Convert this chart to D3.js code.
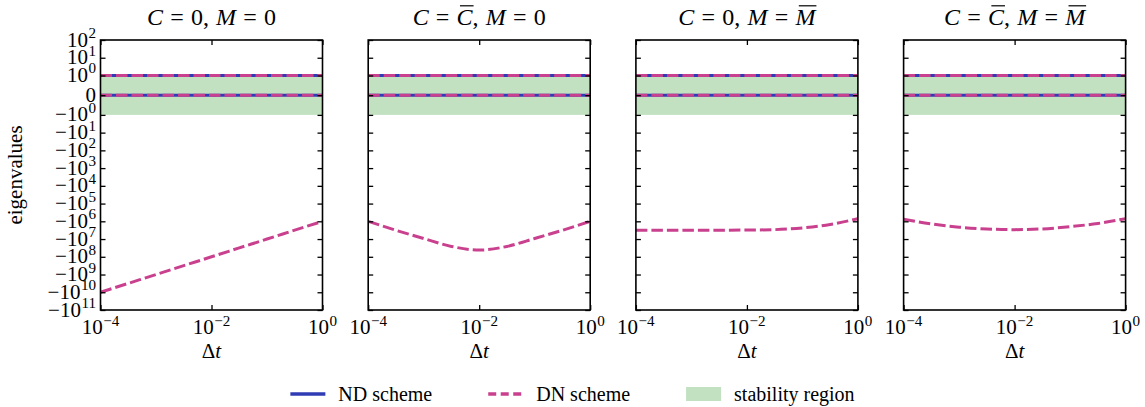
<!DOCTYPE html>
<html>
<head>
<meta charset="utf-8">
<script src="https://cdn.jsdelivr.net/npm/d3@7"></script>
<style>
  body { margin: 0; background: #fff; }
  svg { font-family: "Liberation Serif", "DejaVu Serif", serif; }
  .tick line { stroke: #000; stroke-width: 1.3; }
</style>
</head>
<body>
<svg id="chart" width="1145" height="407"></svg>
<script>
// ---- data ----
const dtValues = [1e-4, 3.16e-4, 1e-3, 3.16e-3, 1e-2, 3.16e-2, 1e-1, 3.16e-1, 1];

// symbols in the titles: "0" is literal, a letter means the barred symbol
const cValues = ["0", "C", "0", "C"];
const mValues = ["0", "0", "M", "M"];

// eigenvalues that stay constant over dt (both schemes)
const ndConstant = [1, 0];
const dnConstant = [1, 0];

// the large negative DN eigenvalue, one row per panel
const dnPanel1 = [-1e10, -3.16e9, -1e9, -3.16e8, -1e8, -3.16e7, -1e7, -3.16e6, -1e6];
const dnPanel2 = [-1e6, -3.2e6, -9.3e6, -2.6e7, -4.2e7, -2.6e7, -9.3e6, -3.2e6, -1e6];
const dnPanel3 = [-3.16e6, -3.16e6, -3.16e6, -3.15e6, -3.1e6, -2.95e6, -2.35e6, -1.5e6, -7.1e5];
const dnPanel4 = [-7.6e5, -1.41e6, -2.14e6, -2.69e6, -2.95e6, -2.69e6, -2.0e6, -1.32e6, -7.1e5];
const dnBranches = [dnPanel1, dnPanel2, dnPanel3, dnPanel4];

const stabilityRegion = [-1, 1];

const yTicks = [1e2, 1e1, 1, 0, -1, -1e1, -1e2, -1e3, -1e4, -1e5, -1e6, -1e7, -1e8, -1e9, -1e10, -1e11];
const xTicks = [1e-4, 1e-2, 1];

const legendLabels = ["ND scheme", "DN scheme", "stability region"];

// ---- layout ----
const svg = d3.select("#chart");
const width = +svg.attr("width");

const margin = { top: 40, left: 100.5 };
const panelWidth = 222;
const panelGap = 45.7;
const innerHeight = 270;

const blue = "#2f3cb4";
const pink = "#c9418e";
const green = "#c1e1c1";
const fontSize = 21;

// matplotlib-style symlog, linthresh = 1, linscale = 1
const linscale = 1 / (1 - 1 / 10);
function symlog(v) {
  const a = Math.abs(v);
  return a <= 1 ? v * linscale : Math.sign(v) * (linscale + Math.log10(a));
}

const yT = d3.scaleLinear()
  .domain([symlog(-1e11), symlog(1e2)])
  .range([innerHeight, 0]);
const y = v => yT(symlog(v));

const x = d3.scaleLog()
  .domain(d3.extent(dtValues))
  .range([0, panelWidth]);

const line = d3.line()
  .x(d => x(d.dt))
  .y(d => y(d.v))
  .curve(d3.curveMonotoneX);

function powLabel(sel, value) {
  // writes "10^k" (or "−10^k", or "0") into a text element
  if (value === 0) { sel.text("0"); return; }
  const exp = Math.round(Math.log10(Math.abs(value)));
  sel.append("tspan").text((value < 0 ? "\u2212" : "") + "10");
  sel.append("tspan")
    .attr("dy", -8.5)
    .attr("dx", 0.5)
    .attr("font-size", fontSize * 0.72)
    .text(exp < 0 ? "\u2212" + (-exp) : exp);
}

function mathTitle(parent, cSym, mSym) {
  const size = 24;
  const grp = parent.append("g");
  const segs = [
    { text: "C", italic: true },
    { text: "=", pad: 0.3 },
    { text: cSym, italic: cSym !== "0", bar: cSym !== "0" },
    { text: ",", after: 0.3 },
    { text: "M", italic: true },
    { text: "=", pad: 0.3 },
    { text: mSym, italic: mSym !== "0", bar: mSym !== "0" }
  ];
  let cx = 0;
  segs.forEach(s => {
    cx += (s.pad || 0) * size;
    const t = grp.append("text")
      .attr("x", cx)
      .attr("font-size", size)
      .style("font-style", s.italic ? "italic" : "normal")
      .text(s.text);
    const w = t.node().getComputedTextLength();
    if (s.bar) {
      grp.append("line")
        .attr("x1", cx + 0.14 * size).attr("x2", cx + w + 0.04 * size)
        .attr("y1", -0.8 * size).attr("y2", -0.8 * size)
        .attr("stroke", "#000").attr("stroke-width", 1.2);
    }
    cx += w + (s.pad || 0) * size + (s.after || 0) * size;
  });
  return cx;
}

dnBranches.forEach((branch, i) => {
  const left = margin.left + i * (panelWidth + panelGap);
  const g = svg.append("g")
    .attr("transform", `translate(${left}, ${margin.top})`);

  const clipId = `clip${i}`;
  g.append("clipPath").attr("id", clipId)
    .append("rect").attr("width", panelWidth).attr("height", innerHeight);

  const plot = g.append("g").attr("clip-path", `url(#${clipId})`);

  plot.append("rect")
    .attr("x", 0)
    .attr("width", panelWidth)
    .attr("y", y(stabilityRegion[1]))
    .attr("height", y(stabilityRegion[0]) - y(stabilityRegion[1]))
    .attr("fill", green);

  const ends = x.domain();

  ndConstant.forEach(v => {
    plot.append("path")
      .datum(ends.map(dt => ({ dt, v })))
      .attr("d", line)
      .attr("fill", "none")
      .attr("stroke", blue)
      .attr("stroke-width", 3);
  });

  dnConstant.forEach(v => {
    plot.append("path")
      .datum(ends.map(dt => ({ dt, v })))
      .attr("d", line)
      .attr("fill", "none")
      .attr("stroke", pink)
      .attr("stroke-width", 3)
      .attr("stroke-dasharray", "11.5,4");
  });

  plot.append("path")
    .datum(dtValues.map((dt, j) => ({ dt, v: branch[j] })))
    .attr("d", line)
    .attr("fill", "none")
    .attr("stroke", pink)
    .attr("stroke-width", 3)
    .attr("stroke-dasharray", "11.5,4");

  // inward ticks on all four sides
  const yTickVals = yTicks.map(symlog);
  g.append("g")
    .call(d3.axisLeft(yT).tickValues(yTickVals).tickSize(-5).tickFormat(""))
    .call(a => a.select(".domain").remove());
  g.append("g")
    .attr("transform", `translate(${panelWidth}, 0)`)
    .call(d3.axisRight(yT).tickValues(yTickVals).tickSize(-5).tickFormat(""))
    .call(a => a.select(".domain").remove());
  g.append("g")
    .attr("transform", `translate(0, ${innerHeight})`)
    .call(d3.axisBottom(x).tickValues(xTicks).tickSize(-5).tickFormat(""))
    .call(a => a.select(".domain").remove());
  g.append("g")
    .call(d3.axisTop(x).tickValues(xTicks).tickSize(-5).tickFormat(""))
    .call(a => a.select(".domain").remove());

  g.append("rect")
    .attr("width", panelWidth)
    .attr("height", innerHeight)
    .attr("fill", "none")
    .attr("stroke", "#000")
    .attr("stroke-width", 1.6);

  // x tick labels
  xTicks.forEach(t => {
    g.append("text")
      .attr("x", x(t))
      .attr("y", innerHeight + 24)
      .attr("text-anchor", "middle")
      .attr("font-size", fontSize)
      .call(powLabel, t);
  });

  // y tick labels only on the first panel
  if (i === 0) {
    yTicks.forEach(t => {
      g.append("text")
        .attr("x", -4.5)
        .attr("y", y(t) + 6.5)
        .attr("text-anchor", "end")
        .attr("font-size", fontSize)
        .call(powLabel, t);
    });
  }

  // x axis label
  const xl = g.append("text")
    .attr("x", panelWidth / 2)
    .attr("y", innerHeight + 48)
    .attr("text-anchor", "middle")
    .attr("font-size", fontSize);
  xl.append("tspan").text("\u0394");
  xl.append("tspan").style("font-style", "italic").text("t");

  // title
  const tg = g.append("g");
  const tw = mathTitle(tg, cValues[i], mValues[i]);
  tg.attr("transform", `translate(${panelWidth / 2 - tw / 2}, -15)`);
});

svg.append("text")
  .attr("transform", `translate(22, ${margin.top + innerHeight / 2}) rotate(-90)`)
  .attr("text-anchor", "middle")
  .attr("font-size", fontSize)
  .text("eigenvalues");

// ---- legend ----
const legend = svg.append("g");
const handleLen = 35, handlePad = 13, colGap = 56;
let lx = 0;
legendLabels.forEach((label, i) => {
  const item = legend.append("g").attr("transform", `translate(${lx}, 0)`);
  if (i === 0) {
    item.append("line").attr("x1", 0).attr("x2", handleLen)
      .attr("stroke", blue).attr("stroke-width", 3.5);
  } else if (i === 1) {
    item.append("line").attr("x1", 0).attr("x2", handleLen)
      .attr("stroke", pink).attr("stroke-width", 3.5)
      .attr("stroke-dasharray", "8,4.5");
  } else {
    item.append("rect").attr("x", 0).attr("y", -7).attr("width", handleLen).attr("height", 14)
      .attr("fill", green);
  }
  const t = item.append("text")
    .attr("x", handleLen + handlePad)
    .attr("y", 6.5)
    .attr("font-size", 20)
    .text(label);
  lx += handleLen + handlePad + t.node().getComputedTextLength() + colGap;
});
lx -= colGap;
legend.attr("transform", `translate(${width / 2 - lx / 2}, 394)`);
</script>
</body>
</html>
